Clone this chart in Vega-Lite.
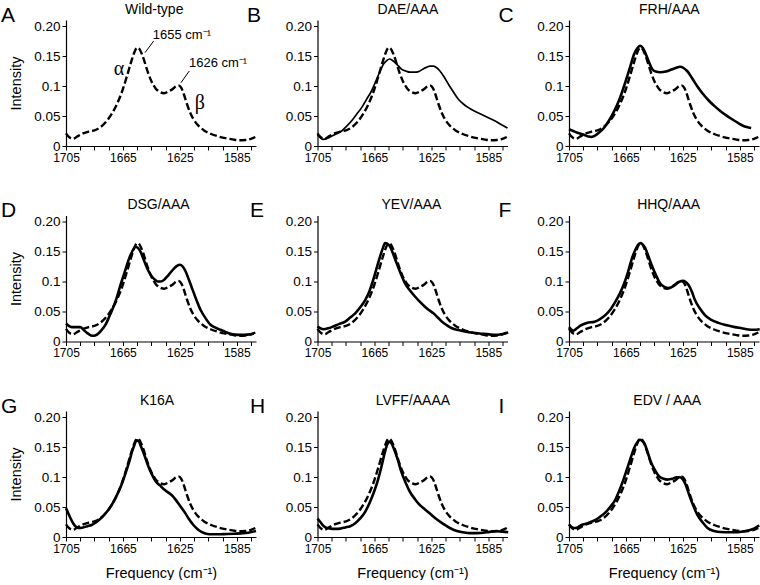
{
"$schema": "https://vega.github.io/schema/vega-lite/v6.json",
"padding": {"left": 0, "top": 2, "right": 0, "bottom": 0},
"autosize": {"type": "pad"},
"background": "white",
"columns": 3,
"spacing": {"row": 69.5, "column": 61.5},
"bounds": "flush",
"config": {
  "font": "Liberation Sans",
  "view": {"stroke": null},
  "axis": {"grid": false, "domainColor": "black", "domainWidth": 1.2, "tickColor": "black", "tickWidth": 1, "tickSize": 4, "labelColor": "black", "labelFont": "Liberation Sans", "titleFont": "Liberation Sans", "titleFontWeight": "normal", "titleColor": "black", "titleFontSize": 14.5, "labelPadding": 2},
  "axisX": {"labelFontSize": 12, "titlePadding": 12},
  "axisY": {"labelFontSize": 13.5, "titlePadding": 10},
  "line": {"color": "black", "interpolate": "monotone"},
  "text": {"color": "black"},
  "rule": {"color": "black"}
},
"datasets": {
  "wildtype": [
    {"freq":1705,"intensity":0.021},{"freq":1702.5,"intensity":0.014},{"freq":1700,"intensity":0.012},{"freq":1697,"intensity":0.016},{"freq":1693,"intensity":0.021},{"freq":1689,"intensity":0.024},{"freq":1685,"intensity":0.026},{"freq":1681,"intensity":0.031},{"freq":1677,"intensity":0.040},{"freq":1673,"intensity":0.053},{"freq":1669,"intensity":0.071},{"freq":1665,"intensity":0.095},{"freq":1662,"intensity":0.118},{"freq":1659,"intensity":0.142},{"freq":1657,"intensity":0.156},{"freq":1655,"intensity":0.164},{"freq":1653.5,"intensity":0.162},{"freq":1652,"intensity":0.155},{"freq":1650,"intensity":0.142},{"freq":1647.5,"intensity":0.123},{"freq":1645,"intensity":0.108},{"freq":1642,"intensity":0.096},{"freq":1639,"intensity":0.090},{"freq":1636,"intensity":0.088},{"freq":1633,"intensity":0.091},{"freq":1630,"intensity":0.095},{"freq":1628,"intensity":0.099},{"freq":1626,"intensity":0.101},{"freq":1624,"intensity":0.097},{"freq":1622,"intensity":0.085},{"freq":1620,"intensity":0.070},{"freq":1617.5,"intensity":0.054},{"freq":1615,"intensity":0.043},{"freq":1612,"intensity":0.034},{"freq":1608,"intensity":0.026},{"freq":1603,"intensity":0.020},{"freq":1598,"intensity":0.016},{"freq":1593,"intensity":0.013},{"freq":1588,"intensity":0.011},{"freq":1583,"intensity":0.0095},{"freq":1579,"intensity":0.010},{"freq":1575,"intensity":0.012},{"freq":1572,"intensity":0.015}
  ],
  "mutants": [
    {"panel":"B","freq":1705,"intensity":0.019},{"panel":"B","freq":1701,"intensity":0.011},{"panel":"B","freq":1697,"intensity":0.014},{"panel":"B","freq":1692,"intensity":0.020},{"panel":"B","freq":1688,"intensity":0.025},{"panel":"B","freq":1684.5,"intensity":0.033},{"panel":"B","freq":1681,"intensity":0.042},{"panel":"B","freq":1677.5,"intensity":0.053},{"panel":"B","freq":1674,"intensity":0.064},{"panel":"B","freq":1670.5,"intensity":0.078},{"panel":"B","freq":1667,"intensity":0.092},{"panel":"B","freq":1664,"intensity":0.108},{"panel":"B","freq":1661,"intensity":0.125},{"panel":"B","freq":1658.5,"intensity":0.137},{"panel":"B","freq":1656.5,"intensity":0.142},{"panel":"B","freq":1654.5,"intensity":0.145},{"panel":"B","freq":1652.5,"intensity":0.143},{"panel":"B","freq":1650.5,"intensity":0.139},{"panel":"B","freq":1648,"intensity":0.133},{"panel":"B","freq":1646,"intensity":0.128},{"panel":"B","freq":1643,"intensity":0.125},{"panel":"B","freq":1640,"intensity":0.123},{"panel":"B","freq":1637,"intensity":0.123},{"panel":"B","freq":1634,"intensity":0.124},{"panel":"B","freq":1631,"intensity":0.128},{"panel":"B","freq":1628.5,"intensity":0.131},{"panel":"B","freq":1626,"intensity":0.133},{"panel":"B","freq":1623.5,"intensity":0.133},{"panel":"B","freq":1621,"intensity":0.130},{"panel":"B","freq":1619,"intensity":0.125},{"panel":"B","freq":1616,"intensity":0.115},{"panel":"B","freq":1613,"intensity":0.103},{"panel":"B","freq":1609.5,"intensity":0.090},{"panel":"B","freq":1606,"intensity":0.078},{"panel":"B","freq":1602.5,"intensity":0.070},{"panel":"B","freq":1599,"intensity":0.064},{"panel":"B","freq":1594.5,"intensity":0.058},{"panel":"B","freq":1590,"intensity":0.053},{"panel":"B","freq":1585,"intensity":0.047},{"panel":"B","freq":1580.5,"intensity":0.042},{"panel":"B","freq":1576,"intensity":0.036},{"panel":"B","freq":1571.5,"intensity":0.030},
    {"panel":"C","freq":1705,"intensity":0.028},{"panel":"C","freq":1702,"intensity":0.025},{"panel":"C","freq":1699,"intensity":0.022},{"panel":"C","freq":1695,"intensity":0.019},{"panel":"C","freq":1691.5,"intensity":0.016},{"panel":"C","freq":1689.5,"intensity":0.015},{"panel":"C","freq":1687,"intensity":0.017},{"panel":"C","freq":1684,"intensity":0.022},{"panel":"C","freq":1680.5,"intensity":0.030},{"panel":"C","freq":1677,"intensity":0.042},{"panel":"C","freq":1673.5,"intensity":0.057},{"panel":"C","freq":1670,"intensity":0.075},{"panel":"C","freq":1667,"intensity":0.095},{"panel":"C","freq":1664,"intensity":0.117},{"panel":"C","freq":1661.5,"intensity":0.136},{"panel":"C","freq":1659.3,"intensity":0.153},{"panel":"C","freq":1657,"intensity":0.163},{"panel":"C","freq":1655,"intensity":0.167},{"panel":"C","freq":1653,"intensity":0.163},{"panel":"C","freq":1651,"intensity":0.153},{"panel":"C","freq":1649,"intensity":0.141},{"panel":"C","freq":1646.5,"intensity":0.128},{"panel":"C","freq":1644,"intensity":0.124},{"panel":"C","freq":1641,"intensity":0.123},{"panel":"C","freq":1637,"intensity":0.124},{"panel":"C","freq":1633.5,"intensity":0.127},{"panel":"C","freq":1630,"intensity":0.130},{"panel":"C","freq":1627,"intensity":0.132},{"panel":"C","freq":1624.5,"intensity":0.130},{"panel":"C","freq":1622,"intensity":0.125},{"panel":"C","freq":1618.5,"intensity":0.113},{"panel":"C","freq":1615,"intensity":0.100},{"panel":"C","freq":1611,"intensity":0.087},{"panel":"C","freq":1606.5,"intensity":0.075},{"panel":"C","freq":1602.5,"intensity":0.066},{"panel":"C","freq":1598.5,"intensity":0.058},{"panel":"C","freq":1594.5,"intensity":0.051},{"panel":"C","freq":1590,"intensity":0.044},{"panel":"C","freq":1586,"intensity":0.038},{"panel":"C","freq":1582,"intensity":0.033},{"panel":"C","freq":1579,"intensity":0.031},{"panel":"C","freq":1577,"intensity":0.030},
    {"panel":"D","freq":1705,"intensity":0.030},{"panel":"D","freq":1703,"intensity":0.026},{"panel":"D","freq":1701,"intensity":0.024},{"panel":"D","freq":1698,"intensity":0.024},{"panel":"D","freq":1695,"intensity":0.024},{"panel":"D","freq":1692.5,"intensity":0.019},{"panel":"D","freq":1690,"intensity":0.014},{"panel":"D","freq":1687.5,"intensity":0.010},{"panel":"D","freq":1685.5,"intensity":0.0095},{"panel":"D","freq":1683,"intensity":0.012},{"panel":"D","freq":1680,"intensity":0.019},{"panel":"D","freq":1677,"intensity":0.029},{"panel":"D","freq":1674.5,"intensity":0.042},{"panel":"D","freq":1672.5,"intensity":0.053},{"panel":"D","freq":1669.5,"intensity":0.072},{"panel":"D","freq":1667,"intensity":0.092},{"panel":"D","freq":1664,"intensity":0.114},{"panel":"D","freq":1661,"intensity":0.136},{"panel":"D","freq":1658.5,"intensity":0.150},{"panel":"D","freq":1656.2,"intensity":0.158},{"panel":"D","freq":1654.5,"intensity":0.156},{"panel":"D","freq":1652.5,"intensity":0.149},{"panel":"D","freq":1650.5,"intensity":0.137},{"panel":"D","freq":1648,"intensity":0.122},{"panel":"D","freq":1645.5,"intensity":0.111},{"panel":"D","freq":1643,"intensity":0.104},{"panel":"D","freq":1640.5,"intensity":0.100},{"panel":"D","freq":1638.5,"intensity":0.100},{"panel":"D","freq":1636,"intensity":0.103},{"panel":"D","freq":1634,"intensity":0.108},{"panel":"D","freq":1631.5,"intensity":0.115},{"panel":"D","freq":1629,"intensity":0.122},{"panel":"D","freq":1627,"intensity":0.126},{"panel":"D","freq":1625,"intensity":0.128},{"panel":"D","freq":1623,"intensity":0.125},{"panel":"D","freq":1621,"intensity":0.117},{"panel":"D","freq":1618.5,"intensity":0.102},{"panel":"D","freq":1616,"intensity":0.086},{"panel":"D","freq":1613.5,"intensity":0.070},{"panel":"D","freq":1610.5,"intensity":0.053},{"panel":"D","freq":1607,"intensity":0.039},{"panel":"D","freq":1603.5,"intensity":0.028},{"panel":"D","freq":1600,"intensity":0.023},{"panel":"D","freq":1596.5,"intensity":0.0195},{"panel":"D","freq":1593,"intensity":0.016},{"panel":"D","freq":1589.5,"intensity":0.013},{"panel":"D","freq":1586,"intensity":0.0115},{"panel":"D","freq":1582,"intensity":0.011},{"panel":"D","freq":1577.5,"intensity":0.0115},{"panel":"D","freq":1573,"intensity":0.013},
    {"panel":"E","freq":1705,"intensity":0.025},{"panel":"E","freq":1701,"intensity":0.0205},{"panel":"E","freq":1697.5,"intensity":0.022},{"panel":"E","freq":1694,"intensity":0.025},{"panel":"E","freq":1690,"intensity":0.029},{"panel":"E","freq":1685.5,"intensity":0.033},{"panel":"E","freq":1682,"intensity":0.040},{"panel":"E","freq":1678.5,"intensity":0.047},{"panel":"E","freq":1675,"intensity":0.057},{"panel":"E","freq":1671.5,"intensity":0.069},{"panel":"E","freq":1668.5,"intensity":0.084},{"panel":"E","freq":1665.8,"intensity":0.103},{"panel":"E","freq":1663.5,"intensity":0.122},{"panel":"E","freq":1661,"intensity":0.142},{"panel":"E","freq":1659,"intensity":0.156},{"panel":"E","freq":1657.5,"intensity":0.164},{"panel":"E","freq":1656,"intensity":0.163},{"panel":"E","freq":1654,"intensity":0.158},{"panel":"E","freq":1652,"intensity":0.147},{"panel":"E","freq":1649.5,"intensity":0.131},{"panel":"E","freq":1646.5,"intensity":0.113},{"panel":"E","freq":1643.5,"intensity":0.097},{"panel":"E","freq":1640,"intensity":0.085},{"panel":"E","freq":1636.5,"intensity":0.075},{"panel":"E","freq":1633,"intensity":0.066},{"panel":"E","freq":1629.5,"intensity":0.058},{"panel":"E","freq":1626.5,"intensity":0.052},{"panel":"E","freq":1623.5,"intensity":0.047},{"panel":"E","freq":1620.5,"intensity":0.040},{"panel":"E","freq":1617.5,"intensity":0.033},{"panel":"E","freq":1614,"intensity":0.027},{"panel":"E","freq":1610.5,"intensity":0.022},{"panel":"E","freq":1606,"intensity":0.019},{"panel":"E","freq":1601.5,"intensity":0.0167},{"panel":"E","freq":1595.5,"intensity":0.0145},{"panel":"E","freq":1589.5,"intensity":0.013},{"panel":"E","freq":1584.5,"intensity":0.0118},{"panel":"E","freq":1580,"intensity":0.011},{"panel":"E","freq":1575,"intensity":0.0125},{"panel":"E","freq":1571,"intensity":0.015},
    {"panel":"F","freq":1705,"intensity":0.024},{"panel":"F","freq":1702,"intensity":0.018},{"panel":"F","freq":1699.5,"intensity":0.022},{"panel":"F","freq":1697,"intensity":0.0265},{"panel":"F","freq":1692.5,"intensity":0.031},{"panel":"F","freq":1687,"intensity":0.033},{"panel":"F","freq":1683.5,"intensity":0.037},{"panel":"F","freq":1679.5,"intensity":0.044},{"panel":"F","freq":1676,"intensity":0.053},{"panel":"F","freq":1672.5,"intensity":0.066},{"panel":"F","freq":1669.5,"intensity":0.079},{"panel":"F","freq":1666.5,"intensity":0.095},{"panel":"F","freq":1663.5,"intensity":0.116},{"panel":"F","freq":1661,"intensity":0.137},{"panel":"F","freq":1658.5,"intensity":0.152},{"panel":"F","freq":1656.5,"intensity":0.161},{"panel":"F","freq":1654.5,"intensity":0.164},{"panel":"F","freq":1653,"intensity":0.161},{"panel":"F","freq":1651.5,"intensity":0.156},{"panel":"F","freq":1649.5,"intensity":0.144},{"panel":"F","freq":1647,"intensity":0.128},{"panel":"F","freq":1644,"intensity":0.111},{"panel":"F","freq":1641,"intensity":0.097},{"panel":"F","freq":1638,"intensity":0.091},{"panel":"F","freq":1635,"intensity":0.089},{"panel":"F","freq":1632,"intensity":0.092},{"panel":"F","freq":1629.5,"intensity":0.097},{"panel":"F","freq":1627,"intensity":0.100},{"panel":"F","freq":1625,"intensity":0.101},{"panel":"F","freq":1623,"intensity":0.099},{"panel":"F","freq":1621,"intensity":0.094},{"panel":"F","freq":1618.5,"intensity":0.082},{"panel":"F","freq":1616.5,"intensity":0.069},{"panel":"F","freq":1613,"intensity":0.055},{"panel":"F","freq":1609.5,"intensity":0.044},{"panel":"F","freq":1605,"intensity":0.036},{"panel":"F","freq":1600,"intensity":0.031},{"panel":"F","freq":1594,"intensity":0.027},{"panel":"F","freq":1588.5,"intensity":0.024},{"panel":"F","freq":1583.5,"intensity":0.022},{"panel":"F","freq":1579,"intensity":0.020},{"panel":"F","freq":1575,"intensity":0.0195},{"panel":"F","freq":1571,"intensity":0.0205},
    {"panel":"G","freq":1705,"intensity":0.048},{"panel":"G","freq":1703.5,"intensity":0.040},{"panel":"G","freq":1702,"intensity":0.032},{"panel":"G","freq":1700,"intensity":0.023},{"panel":"G","freq":1698,"intensity":0.017},{"panel":"G","freq":1696,"intensity":0.015},{"panel":"G","freq":1693,"intensity":0.016},{"panel":"G","freq":1690,"intensity":0.018},{"panel":"G","freq":1687,"intensity":0.020},{"panel":"G","freq":1683.5,"intensity":0.025},{"panel":"G","freq":1680.5,"intensity":0.031},{"panel":"G","freq":1677,"intensity":0.040},{"panel":"G","freq":1673.5,"intensity":0.051},{"panel":"G","freq":1670,"intensity":0.066},{"panel":"G","freq":1666.5,"intensity":0.084},{"panel":"G","freq":1663.5,"intensity":0.104},{"panel":"G","freq":1660.5,"intensity":0.126},{"panel":"G","freq":1658.5,"intensity":0.143},{"panel":"G","freq":1657,"intensity":0.153},{"panel":"G","freq":1655.5,"intensity":0.161},{"panel":"G","freq":1654,"intensity":0.160},{"panel":"G","freq":1652.3,"intensity":0.151},{"panel":"G","freq":1650,"intensity":0.137},{"panel":"G","freq":1647.5,"intensity":0.120},{"panel":"G","freq":1645,"intensity":0.106},{"panel":"G","freq":1642,"intensity":0.093},{"panel":"G","freq":1639,"intensity":0.086},{"panel":"G","freq":1636,"intensity":0.079},{"panel":"G","freq":1633,"intensity":0.074},{"panel":"G","freq":1630,"intensity":0.068},{"panel":"G","freq":1627,"intensity":0.059},{"panel":"G","freq":1624,"intensity":0.049},{"panel":"G","freq":1621,"intensity":0.039},{"panel":"G","freq":1618.5,"intensity":0.0295},{"panel":"G","freq":1615.5,"intensity":0.020},{"panel":"G","freq":1612.5,"intensity":0.013},{"panel":"G","freq":1609.5,"intensity":0.008},{"panel":"G","freq":1606.5,"intensity":0.0055},{"panel":"G","freq":1602,"intensity":0.0045},{"panel":"G","freq":1598,"intensity":0.0045},{"panel":"G","freq":1592,"intensity":0.005},{"panel":"G","freq":1586.5,"intensity":0.0055},{"panel":"G","freq":1582,"intensity":0.006},{"panel":"G","freq":1577,"intensity":0.007},{"panel":"G","freq":1571.5,"intensity":0.010},
    {"panel":"H","freq":1705,"intensity":0.0305},{"panel":"H","freq":1703,"intensity":0.025},{"panel":"H","freq":1701,"intensity":0.019},{"panel":"H","freq":1698.5,"intensity":0.015},{"panel":"H","freq":1696,"intensity":0.014},{"panel":"H","freq":1692.5,"intensity":0.0135},{"panel":"H","freq":1689,"intensity":0.014},{"panel":"H","freq":1685.5,"intensity":0.016},{"panel":"H","freq":1682,"intensity":0.018},{"panel":"H","freq":1678.5,"intensity":0.023},{"panel":"H","freq":1675,"intensity":0.031},{"panel":"H","freq":1671.5,"intensity":0.042},{"panel":"H","freq":1668.2,"intensity":0.058},{"panel":"H","freq":1665,"intensity":0.077},{"panel":"H","freq":1662.3,"intensity":0.097},{"panel":"H","freq":1660,"intensity":0.118},{"panel":"H","freq":1657.6,"intensity":0.142},{"panel":"H","freq":1656,"intensity":0.154},{"panel":"H","freq":1654.6,"intensity":0.159},{"panel":"H","freq":1653,"intensity":0.156},{"panel":"H","freq":1651.3,"intensity":0.147},{"panel":"H","freq":1648.5,"intensity":0.128},{"panel":"H","freq":1646,"intensity":0.108},{"panel":"H","freq":1643,"intensity":0.090},{"panel":"H","freq":1640,"intensity":0.075},{"panel":"H","freq":1636.5,"intensity":0.063},{"panel":"H","freq":1633,"intensity":0.053},{"panel":"H","freq":1629.5,"intensity":0.046},{"panel":"H","freq":1626,"intensity":0.039},{"panel":"H","freq":1621.5,"intensity":0.030},{"panel":"H","freq":1616.7,"intensity":0.022},{"panel":"H","freq":1612,"intensity":0.015},{"panel":"H","freq":1607,"intensity":0.010},{"panel":"H","freq":1602,"intensity":0.0075},{"panel":"H","freq":1598,"intensity":0.0065},{"panel":"H","freq":1593,"intensity":0.0065},{"panel":"H","freq":1588.5,"intensity":0.007},{"panel":"H","freq":1584,"intensity":0.0085},{"panel":"H","freq":1579,"intensity":0.0095},{"panel":"H","freq":1575,"intensity":0.009},{"panel":"H","freq":1571,"intensity":0.008},
    {"panel":"I","freq":1705,"intensity":0.0205},{"panel":"I","freq":1701.5,"intensity":0.015},{"panel":"I","freq":1699,"intensity":0.016},{"panel":"I","freq":1696.8,"intensity":0.0195},{"panel":"I","freq":1693,"intensity":0.022},{"panel":"I","freq":1689.8,"intensity":0.025},{"panel":"I","freq":1686,"intensity":0.029},{"panel":"I","freq":1682.7,"intensity":0.0345},{"panel":"I","freq":1679,"intensity":0.042},{"panel":"I","freq":1675.7,"intensity":0.051},{"panel":"I","freq":1672.5,"intensity":0.062},{"panel":"I","freq":1669.9,"intensity":0.076},{"panel":"I","freq":1667,"intensity":0.094},{"panel":"I","freq":1664,"intensity":0.115},{"panel":"I","freq":1661.5,"intensity":0.133},{"panel":"I","freq":1659.3,"intensity":0.148},{"panel":"I","freq":1657,"intensity":0.158},{"panel":"I","freq":1655.3,"intensity":0.162},{"panel":"I","freq":1653.5,"intensity":0.160},{"panel":"I","freq":1652,"intensity":0.156},{"panel":"I","freq":1650,"intensity":0.143},{"panel":"I","freq":1647.6,"intensity":0.126},{"panel":"I","freq":1645,"intensity":0.113},{"panel":"I","freq":1641.7,"intensity":0.101},{"panel":"I","freq":1638.5,"intensity":0.097},{"panel":"I","freq":1635.9,"intensity":0.0957},{"panel":"I","freq":1632.5,"intensity":0.097},{"panel":"I","freq":1629.5,"intensity":0.0995},{"panel":"I","freq":1627,"intensity":0.0995},{"panel":"I","freq":1625,"intensity":0.096},{"panel":"I","freq":1623,"intensity":0.087},{"panel":"I","freq":1620.7,"intensity":0.071},{"panel":"I","freq":1618,"intensity":0.054},{"panel":"I","freq":1614.8,"intensity":0.037},{"panel":"I","freq":1611,"intensity":0.024},{"panel":"I","freq":1607.7,"intensity":0.015},{"panel":"I","freq":1603,"intensity":0.010},{"panel":"I","freq":1598.4,"intensity":0.0083},{"panel":"I","freq":1592,"intensity":0.008},{"panel":"I","freq":1586.7,"intensity":0.008},{"panel":"I","freq":1582,"intensity":0.0095},{"panel":"I","freq":1577.3,"intensity":0.012},{"panel":"I","freq":1574,"intensity":0.015},{"panel":"I","freq":1571.4,"intensity":0.0195}
  ]
},
"concat": [
  {"width": 190, "height": 126,
   "layer": [
     {"data": {"name": "wildtype"}, "mark": {"type": "line", "strokeWidth": 2.4, "strokeDash": [7, 3]},
      "encoding": {
       "x": {"field": "freq", "type": "quantitative", "scale": {"domain": [1571.5, 1705], "reverse": true, "nice": false, "zero": false}, "axis": {"title": null, "values": [1705,1695,1685,1675,1665,1655,1645,1635,1625,1615,1605,1595,1585,1575], "format": "d", "labelExpr": "(1705 - datum.value) % 40 == 0 ? datum.label : ''", "labelOverlap": false, "labelFlush": false}},
       "y": {"field": "intensity", "type": "quantitative", "scale": {"domain": [0, 0.21], "nice": false, "zero": true}, "axis": {"title": "Intensity", "values": [0, 0.05, 0.1, 0.15, 0.2], "labelOverlap": false, "labelExpr": "datum.value == 0 ? '0' : (abs(datum.value - 0.1) < 0.000001 ? '0.1' : format(datum.value, '.2f'))"}}}},
     {"data": {"values": [{"t": "A"}]}, "mark": {"type": "text", "fontSize": 21, "align": "left", "baseline": "alphabetic"}, "encoding": {"text": {"field": "t"},
       "x": {"datum": 1750.7, "type": "quantitative", "scale": {"domain": [1571.5, 1705], "reverse": true, "nice": false, "zero": false}, "axis": {"title": null, "values": [1705,1695,1685,1675,1665,1655,1645,1635,1625,1615,1605,1595,1585,1575], "format": "d", "labelExpr": "(1705 - datum.value) % 40 == 0 ? datum.label : ''", "labelOverlap": false, "labelFlush": false}},
       "y": {"datum": 0.2067, "type": "quantitative", "scale": {"domain": [0, 0.21], "nice": false, "zero": true}, "axis": {"title": "Intensity", "values": [0, 0.05, 0.1, 0.15, 0.2], "labelOverlap": false, "labelExpr": "datum.value == 0 ? '0' : (abs(datum.value - 0.1) < 0.000001 ? '0.1' : format(datum.value, '.2f'))"}}}},
     {"data": {"values": [{"t": "Wild-type"}]}, "mark": {"type": "text", "fontSize": 14, "align": "center", "baseline": "alphabetic"}, "encoding": {"text": {"field": "t"},
       "x": {"datum": 1643, "type": "quantitative", "scale": {"domain": [1571.5, 1705], "reverse": true, "nice": false, "zero": false}, "axis": {"title": null, "values": [1705,1695,1685,1675,1665,1655,1645,1635,1625,1615,1605,1595,1585,1575], "format": "d", "labelExpr": "(1705 - datum.value) % 40 == 0 ? datum.label : ''", "labelOverlap": false, "labelFlush": false}},
       "y": {"datum": 0.2205, "type": "quantitative", "scale": {"domain": [0, 0.21], "nice": false, "zero": true}, "axis": {"title": "Intensity", "values": [0, 0.05, 0.1, 0.15, 0.2], "labelOverlap": false, "labelExpr": "datum.value == 0 ? '0' : (abs(datum.value - 0.1) < 0.000001 ? '0.1' : format(datum.value, '.2f'))"}}}},
     {"data": {"values": [{"t": "1655 cm⁻¹"}]}, "mark": {"type": "text", "fontSize": 13, "align": "left", "baseline": "middle"}, "encoding": {"text": {"field": "t"},
       "x": {"datum": 1644, "type": "quantitative", "scale": {"domain": [1571.5, 1705], "reverse": true, "nice": false, "zero": false}, "axis": {"title": null, "values": [1705,1695,1685,1675,1665,1655,1645,1635,1625,1615,1605,1595,1585,1575], "format": "d", "labelExpr": "(1705 - datum.value) % 40 == 0 ? datum.label : ''", "labelOverlap": false, "labelFlush": false}},
       "y": {"datum": 0.185, "type": "quantitative", "scale": {"domain": [0, 0.21], "nice": false, "zero": true}, "axis": {"title": "Intensity", "values": [0, 0.05, 0.1, 0.15, 0.2], "labelOverlap": false, "labelExpr": "datum.value == 0 ? '0' : (abs(datum.value - 0.1) < 0.000001 ? '0.1' : format(datum.value, '.2f'))"}}}},
     {"data": {"values": [{"t": "1626 cm⁻¹"}]}, "mark": {"type": "text", "fontSize": 13, "align": "left", "baseline": "middle"}, "encoding": {"text": {"field": "t"},
       "x": {"datum": 1618.6, "type": "quantitative", "scale": {"domain": [1571.5, 1705], "reverse": true, "nice": false, "zero": false}, "axis": {"title": null, "values": [1705,1695,1685,1675,1665,1655,1645,1635,1625,1615,1605,1595,1585,1575], "format": "d", "labelExpr": "(1705 - datum.value) % 40 == 0 ? datum.label : ''", "labelOverlap": false, "labelFlush": false}},
       "y": {"datum": 0.138, "type": "quantitative", "scale": {"domain": [0, 0.21], "nice": false, "zero": true}, "axis": {"title": "Intensity", "values": [0, 0.05, 0.1, 0.15, 0.2], "labelOverlap": false, "labelExpr": "datum.value == 0 ? '0' : (abs(datum.value - 0.1) < 0.000001 ? '0.1' : format(datum.value, '.2f'))"}}}},
     {"data": {"values": [{"t": "α"}]}, "mark": {"type": "text", "fontSize": 20, "font": "Liberation Serif", "align": "center", "baseline": "middle"}, "encoding": {"text": {"field": "t"},
       "x": {"datum": 1667.8, "type": "quantitative", "scale": {"domain": [1571.5, 1705], "reverse": true, "nice": false, "zero": false}, "axis": {"title": null, "values": [1705,1695,1685,1675,1665,1655,1645,1635,1625,1615,1605,1595,1585,1575], "format": "d", "labelExpr": "(1705 - datum.value) % 40 == 0 ? datum.label : ''", "labelOverlap": false, "labelFlush": false}},
       "y": {"datum": 0.128, "type": "quantitative", "scale": {"domain": [0, 0.21], "nice": false, "zero": true}, "axis": {"title": "Intensity", "values": [0, 0.05, 0.1, 0.15, 0.2], "labelOverlap": false, "labelExpr": "datum.value == 0 ? '0' : (abs(datum.value - 0.1) < 0.000001 ? '0.1' : format(datum.value, '.2f'))"}}}},
     {"data": {"values": [{"t": "β"}]}, "mark": {"type": "text", "fontSize": 20, "font": "Liberation Serif", "align": "center", "baseline": "middle"}, "encoding": {"text": {"field": "t"},
       "x": {"datum": 1611, "type": "quantitative", "scale": {"domain": [1571.5, 1705], "reverse": true, "nice": false, "zero": false}, "axis": {"title": null, "values": [1705,1695,1685,1675,1665,1655,1645,1635,1625,1615,1605,1595,1585,1575], "format": "d", "labelExpr": "(1705 - datum.value) % 40 == 0 ? datum.label : ''", "labelOverlap": false, "labelFlush": false}},
       "y": {"datum": 0.072, "type": "quantitative", "scale": {"domain": [0, 0.21], "nice": false, "zero": true}, "axis": {"title": "Intensity", "values": [0, 0.05, 0.1, 0.15, 0.2], "labelOverlap": false, "labelExpr": "datum.value == 0 ? '0' : (abs(datum.value - 0.1) < 0.000001 ? '0.1' : format(datum.value, '.2f'))"}}}},
     {"data": {"values": [{"note": "1655 leader"}]}, "mark": {"type": "rule", "strokeWidth": 1}, "encoding": {
       "x": {"datum": 1649.5, "type": "quantitative", "scale": {"domain": [1571.5, 1705], "reverse": true, "nice": false, "zero": false}, "axis": {"title": null, "values": [1705,1695,1685,1675,1665,1655,1645,1635,1625,1615,1605,1595,1585,1575], "format": "d", "labelExpr": "(1705 - datum.value) % 40 == 0 ? datum.label : ''", "labelOverlap": false, "labelFlush": false}},
       "x2": {"datum": 1643.4},
       "y": {"datum": 0.1555, "type": "quantitative", "scale": {"domain": [0, 0.21], "nice": false, "zero": true}, "axis": {"title": "Intensity", "values": [0, 0.05, 0.1, 0.15, 0.2], "labelOverlap": false, "labelExpr": "datum.value == 0 ? '0' : (abs(datum.value - 0.1) < 0.000001 ? '0.1' : format(datum.value, '.2f'))"}},
       "y2": {"datum": 0.175}}},
     {"data": {"values": [{"note": "1626 leader"}]}, "mark": {"type": "rule", "strokeWidth": 1}, "encoding": {
       "x": {"datum": 1624.2, "type": "quantitative", "scale": {"domain": [1571.5, 1705], "reverse": true, "nice": false, "zero": false}, "axis": {"title": null, "values": [1705,1695,1685,1675,1665,1655,1645,1635,1625,1615,1605,1595,1585,1575], "format": "d", "labelExpr": "(1705 - datum.value) % 40 == 0 ? datum.label : ''", "labelOverlap": false, "labelFlush": false}},
       "x2": {"datum": 1618.4},
       "y": {"datum": 0.1055, "type": "quantitative", "scale": {"domain": [0, 0.21], "nice": false, "zero": true}, "axis": {"title": "Intensity", "values": [0, 0.05, 0.1, 0.15, 0.2], "labelOverlap": false, "labelExpr": "datum.value == 0 ? '0' : (abs(datum.value - 0.1) < 0.000001 ? '0.1' : format(datum.value, '.2f'))"}},
       "y2": {"datum": 0.125}}}
   ]},
  {"width": 190, "height": 126,
   "layer": [
     {"data": {"name": "mutants"}, "transform": [{"filter": "datum.panel == 'B'"}], "mark": {"type": "line", "strokeWidth": 1.7},
      "encoding": {
       "x": {"field": "freq", "type": "quantitative", "scale": {"domain": [1571.5, 1705], "reverse": true, "nice": false, "zero": false}, "axis": {"title": null, "values": [1705,1695,1685,1675,1665,1655,1645,1635,1625,1615,1605,1595,1585,1575], "format": "d", "labelExpr": "(1705 - datum.value) % 40 == 0 ? datum.label : ''", "labelOverlap": false, "labelFlush": false}},
       "y": {"field": "intensity", "type": "quantitative", "scale": {"domain": [0, 0.21], "nice": false, "zero": true}, "axis": {"title": null, "values": [0, 0.05, 0.1, 0.15, 0.2], "labelOverlap": false, "labelExpr": "datum.value == 0 ? '0' : (abs(datum.value - 0.1) < 0.000001 ? '0.1' : format(datum.value, '.2f'))"}}}},
     {"data": {"name": "wildtype"}, "mark": {"type": "line", "strokeWidth": 2.4, "strokeDash": [7, 3]},
      "encoding": {
       "x": {"field": "freq", "type": "quantitative", "scale": {"domain": [1571.5, 1705], "reverse": true, "nice": false, "zero": false}, "axis": {"title": null, "values": [1705,1695,1685,1675,1665,1655,1645,1635,1625,1615,1605,1595,1585,1575], "format": "d", "labelExpr": "(1705 - datum.value) % 40 == 0 ? datum.label : ''", "labelOverlap": false, "labelFlush": false}},
       "y": {"field": "intensity", "type": "quantitative", "scale": {"domain": [0, 0.21], "nice": false, "zero": true}, "axis": {"title": null, "values": [0, 0.05, 0.1, 0.15, 0.2], "labelOverlap": false, "labelExpr": "datum.value == 0 ? '0' : (abs(datum.value - 0.1) < 0.000001 ? '0.1' : format(datum.value, '.2f'))"}}}},
     {"data": {"values": [{"t": "B"}]}, "mark": {"type": "text", "fontSize": 21, "align": "left", "baseline": "alphabetic"}, "encoding": {"text": {"field": "t"},
       "x": {"datum": 1754.5, "type": "quantitative", "scale": {"domain": [1571.5, 1705], "reverse": true, "nice": false, "zero": false}, "axis": {"title": null, "values": [1705,1695,1685,1675,1665,1655,1645,1635,1625,1615,1605,1595,1585,1575], "format": "d", "labelExpr": "(1705 - datum.value) % 40 == 0 ? datum.label : ''", "labelOverlap": false, "labelFlush": false}},
       "y": {"datum": 0.2067, "type": "quantitative", "scale": {"domain": [0, 0.21], "nice": false, "zero": true}, "axis": {"title": null, "values": [0, 0.05, 0.1, 0.15, 0.2], "labelOverlap": false, "labelExpr": "datum.value == 0 ? '0' : (abs(datum.value - 0.1) < 0.000001 ? '0.1' : format(datum.value, '.2f'))"}}}},
     {"data": {"values": [{"t": "DAE/AAA"}]}, "mark": {"type": "text", "fontSize": 14, "align": "center", "baseline": "alphabetic"}, "encoding": {"text": {"field": "t"},
       "x": {"datum": 1641.5, "type": "quantitative", "scale": {"domain": [1571.5, 1705], "reverse": true, "nice": false, "zero": false}, "axis": {"title": null, "values": [1705,1695,1685,1675,1665,1655,1645,1635,1625,1615,1605,1595,1585,1575], "format": "d", "labelExpr": "(1705 - datum.value) % 40 == 0 ? datum.label : ''", "labelOverlap": false, "labelFlush": false}},
       "y": {"datum": 0.2205, "type": "quantitative", "scale": {"domain": [0, 0.21], "nice": false, "zero": true}, "axis": {"title": null, "values": [0, 0.05, 0.1, 0.15, 0.2], "labelOverlap": false, "labelExpr": "datum.value == 0 ? '0' : (abs(datum.value - 0.1) < 0.000001 ? '0.1' : format(datum.value, '.2f'))"}}}}
   ]},
  {"width": 190, "height": 126,
   "layer": [
     {"data": {"name": "mutants"}, "transform": [{"filter": "datum.panel == 'C'"}], "mark": {"type": "line", "strokeWidth": 2.6},
      "encoding": {
       "x": {"field": "freq", "type": "quantitative", "scale": {"domain": [1571.5, 1705], "reverse": true, "nice": false, "zero": false}, "axis": {"title": null, "values": [1705,1695,1685,1675,1665,1655,1645,1635,1625,1615,1605,1595,1585,1575], "format": "d", "labelExpr": "(1705 - datum.value) % 40 == 0 ? datum.label : ''", "labelOverlap": false, "labelFlush": false}},
       "y": {"field": "intensity", "type": "quantitative", "scale": {"domain": [0, 0.21], "nice": false, "zero": true}, "axis": {"title": null, "values": [0, 0.05, 0.1, 0.15, 0.2], "labelOverlap": false, "labelExpr": "datum.value == 0 ? '0' : (abs(datum.value - 0.1) < 0.000001 ? '0.1' : format(datum.value, '.2f'))"}}}},
     {"data": {"name": "wildtype"}, "mark": {"type": "line", "strokeWidth": 2.4, "strokeDash": [7, 3]},
      "encoding": {
       "x": {"field": "freq", "type": "quantitative", "scale": {"domain": [1571.5, 1705], "reverse": true, "nice": false, "zero": false}, "axis": {"title": null, "values": [1705,1695,1685,1675,1665,1655,1645,1635,1625,1615,1605,1595,1585,1575], "format": "d", "labelExpr": "(1705 - datum.value) % 40 == 0 ? datum.label : ''", "labelOverlap": false, "labelFlush": false}},
       "y": {"field": "intensity", "type": "quantitative", "scale": {"domain": [0, 0.21], "nice": false, "zero": true}, "axis": {"title": null, "values": [0, 0.05, 0.1, 0.15, 0.2], "labelOverlap": false, "labelExpr": "datum.value == 0 ? '0' : (abs(datum.value - 0.1) < 0.000001 ? '0.1' : format(datum.value, '.2f'))"}}}},
     {"data": {"values": [{"t": "C"}]}, "mark": {"type": "text", "fontSize": 21, "align": "left", "baseline": "alphabetic"}, "encoding": {"text": {"field": "t"},
       "x": {"datum": 1754.5, "type": "quantitative", "scale": {"domain": [1571.5, 1705], "reverse": true, "nice": false, "zero": false}, "axis": {"title": null, "values": [1705,1695,1685,1675,1665,1655,1645,1635,1625,1615,1605,1595,1585,1575], "format": "d", "labelExpr": "(1705 - datum.value) % 40 == 0 ? datum.label : ''", "labelOverlap": false, "labelFlush": false}},
       "y": {"datum": 0.2067, "type": "quantitative", "scale": {"domain": [0, 0.21], "nice": false, "zero": true}, "axis": {"title": null, "values": [0, 0.05, 0.1, 0.15, 0.2], "labelOverlap": false, "labelExpr": "datum.value == 0 ? '0' : (abs(datum.value - 0.1) < 0.000001 ? '0.1' : format(datum.value, '.2f'))"}}}},
     {"data": {"values": [{"t": "FRH/AAA"}]}, "mark": {"type": "text", "fontSize": 14, "align": "center", "baseline": "alphabetic"}, "encoding": {"text": {"field": "t"},
       "x": {"datum": 1634.5, "type": "quantitative", "scale": {"domain": [1571.5, 1705], "reverse": true, "nice": false, "zero": false}, "axis": {"title": null, "values": [1705,1695,1685,1675,1665,1655,1645,1635,1625,1615,1605,1595,1585,1575], "format": "d", "labelExpr": "(1705 - datum.value) % 40 == 0 ? datum.label : ''", "labelOverlap": false, "labelFlush": false}},
       "y": {"datum": 0.2205, "type": "quantitative", "scale": {"domain": [0, 0.21], "nice": false, "zero": true}, "axis": {"title": null, "values": [0, 0.05, 0.1, 0.15, 0.2], "labelOverlap": false, "labelExpr": "datum.value == 0 ? '0' : (abs(datum.value - 0.1) < 0.000001 ? '0.1' : format(datum.value, '.2f'))"}}}}
   ]},
  {"width": 190, "height": 126,
   "layer": [
     {"data": {"name": "mutants"}, "transform": [{"filter": "datum.panel == 'D'"}], "mark": {"type": "line", "strokeWidth": 2.6},
      "encoding": {
       "x": {"field": "freq", "type": "quantitative", "scale": {"domain": [1571.5, 1705], "reverse": true, "nice": false, "zero": false}, "axis": {"title": null, "values": [1705,1695,1685,1675,1665,1655,1645,1635,1625,1615,1605,1595,1585,1575], "format": "d", "labelExpr": "(1705 - datum.value) % 40 == 0 ? datum.label : ''", "labelOverlap": false, "labelFlush": false}},
       "y": {"field": "intensity", "type": "quantitative", "scale": {"domain": [0, 0.21], "nice": false, "zero": true}, "axis": {"title": "Intensity", "values": [0, 0.05, 0.1, 0.15, 0.2], "labelOverlap": false, "labelExpr": "datum.value == 0 ? '0' : (abs(datum.value - 0.1) < 0.000001 ? '0.1' : format(datum.value, '.2f'))"}}}},
     {"data": {"name": "wildtype"}, "mark": {"type": "line", "strokeWidth": 2.4, "strokeDash": [7, 3]},
      "encoding": {
       "x": {"field": "freq", "type": "quantitative", "scale": {"domain": [1571.5, 1705], "reverse": true, "nice": false, "zero": false}, "axis": {"title": null, "values": [1705,1695,1685,1675,1665,1655,1645,1635,1625,1615,1605,1595,1585,1575], "format": "d", "labelExpr": "(1705 - datum.value) % 40 == 0 ? datum.label : ''", "labelOverlap": false, "labelFlush": false}},
       "y": {"field": "intensity", "type": "quantitative", "scale": {"domain": [0, 0.21], "nice": false, "zero": true}, "axis": {"title": "Intensity", "values": [0, 0.05, 0.1, 0.15, 0.2], "labelOverlap": false, "labelExpr": "datum.value == 0 ? '0' : (abs(datum.value - 0.1) < 0.000001 ? '0.1' : format(datum.value, '.2f'))"}}}},
     {"data": {"values": [{"t": "D"}]}, "mark": {"type": "text", "fontSize": 21, "align": "left", "baseline": "alphabetic"}, "encoding": {"text": {"field": "t"},
       "x": {"datum": 1750.7, "type": "quantitative", "scale": {"domain": [1571.5, 1705], "reverse": true, "nice": false, "zero": false}, "axis": {"title": null, "values": [1705,1695,1685,1675,1665,1655,1645,1635,1625,1615,1605,1595,1585,1575], "format": "d", "labelExpr": "(1705 - datum.value) % 40 == 0 ? datum.label : ''", "labelOverlap": false, "labelFlush": false}},
       "y": {"datum": 0.2067, "type": "quantitative", "scale": {"domain": [0, 0.21], "nice": false, "zero": true}, "axis": {"title": "Intensity", "values": [0, 0.05, 0.1, 0.15, 0.2], "labelOverlap": false, "labelExpr": "datum.value == 0 ? '0' : (abs(datum.value - 0.1) < 0.000001 ? '0.1' : format(datum.value, '.2f'))"}}}},
     {"data": {"values": [{"t": "DSG/AAA"}]}, "mark": {"type": "text", "fontSize": 14, "align": "center", "baseline": "alphabetic"}, "encoding": {"text": {"field": "t"},
       "x": {"datum": 1640, "type": "quantitative", "scale": {"domain": [1571.5, 1705], "reverse": true, "nice": false, "zero": false}, "axis": {"title": null, "values": [1705,1695,1685,1675,1665,1655,1645,1635,1625,1615,1605,1595,1585,1575], "format": "d", "labelExpr": "(1705 - datum.value) % 40 == 0 ? datum.label : ''", "labelOverlap": false, "labelFlush": false}},
       "y": {"datum": 0.2205, "type": "quantitative", "scale": {"domain": [0, 0.21], "nice": false, "zero": true}, "axis": {"title": "Intensity", "values": [0, 0.05, 0.1, 0.15, 0.2], "labelOverlap": false, "labelExpr": "datum.value == 0 ? '0' : (abs(datum.value - 0.1) < 0.000001 ? '0.1' : format(datum.value, '.2f'))"}}}}
   ]},
  {"width": 190, "height": 126,
   "layer": [
     {"data": {"name": "mutants"}, "transform": [{"filter": "datum.panel == 'E'"}], "mark": {"type": "line", "strokeWidth": 2.6},
      "encoding": {
       "x": {"field": "freq", "type": "quantitative", "scale": {"domain": [1571.5, 1705], "reverse": true, "nice": false, "zero": false}, "axis": {"title": null, "values": [1705,1695,1685,1675,1665,1655,1645,1635,1625,1615,1605,1595,1585,1575], "format": "d", "labelExpr": "(1705 - datum.value) % 40 == 0 ? datum.label : ''", "labelOverlap": false, "labelFlush": false}},
       "y": {"field": "intensity", "type": "quantitative", "scale": {"domain": [0, 0.21], "nice": false, "zero": true}, "axis": {"title": null, "values": [0, 0.05, 0.1, 0.15, 0.2], "labelOverlap": false, "labelExpr": "datum.value == 0 ? '0' : (abs(datum.value - 0.1) < 0.000001 ? '0.1' : format(datum.value, '.2f'))"}}}},
     {"data": {"name": "wildtype"}, "mark": {"type": "line", "strokeWidth": 2.4, "strokeDash": [7, 3]},
      "encoding": {
       "x": {"field": "freq", "type": "quantitative", "scale": {"domain": [1571.5, 1705], "reverse": true, "nice": false, "zero": false}, "axis": {"title": null, "values": [1705,1695,1685,1675,1665,1655,1645,1635,1625,1615,1605,1595,1585,1575], "format": "d", "labelExpr": "(1705 - datum.value) % 40 == 0 ? datum.label : ''", "labelOverlap": false, "labelFlush": false}},
       "y": {"field": "intensity", "type": "quantitative", "scale": {"domain": [0, 0.21], "nice": false, "zero": true}, "axis": {"title": null, "values": [0, 0.05, 0.1, 0.15, 0.2], "labelOverlap": false, "labelExpr": "datum.value == 0 ? '0' : (abs(datum.value - 0.1) < 0.000001 ? '0.1' : format(datum.value, '.2f'))"}}}},
     {"data": {"values": [{"t": "E"}]}, "mark": {"type": "text", "fontSize": 21, "align": "left", "baseline": "alphabetic"}, "encoding": {"text": {"field": "t"},
       "x": {"datum": 1752.5, "type": "quantitative", "scale": {"domain": [1571.5, 1705], "reverse": true, "nice": false, "zero": false}, "axis": {"title": null, "values": [1705,1695,1685,1675,1665,1655,1645,1635,1625,1615,1605,1595,1585,1575], "format": "d", "labelExpr": "(1705 - datum.value) % 40 == 0 ? datum.label : ''", "labelOverlap": false, "labelFlush": false}},
       "y": {"datum": 0.2067, "type": "quantitative", "scale": {"domain": [0, 0.21], "nice": false, "zero": true}, "axis": {"title": null, "values": [0, 0.05, 0.1, 0.15, 0.2], "labelOverlap": false, "labelExpr": "datum.value == 0 ? '0' : (abs(datum.value - 0.1) < 0.000001 ? '0.1' : format(datum.value, '.2f'))"}}}},
     {"data": {"values": [{"t": "YEV/AAA"}]}, "mark": {"type": "text", "fontSize": 14, "align": "center", "baseline": "alphabetic"}, "encoding": {"text": {"field": "t"},
       "x": {"datum": 1639, "type": "quantitative", "scale": {"domain": [1571.5, 1705], "reverse": true, "nice": false, "zero": false}, "axis": {"title": null, "values": [1705,1695,1685,1675,1665,1655,1645,1635,1625,1615,1605,1595,1585,1575], "format": "d", "labelExpr": "(1705 - datum.value) % 40 == 0 ? datum.label : ''", "labelOverlap": false, "labelFlush": false}},
       "y": {"datum": 0.2205, "type": "quantitative", "scale": {"domain": [0, 0.21], "nice": false, "zero": true}, "axis": {"title": null, "values": [0, 0.05, 0.1, 0.15, 0.2], "labelOverlap": false, "labelExpr": "datum.value == 0 ? '0' : (abs(datum.value - 0.1) < 0.000001 ? '0.1' : format(datum.value, '.2f'))"}}}}
   ]},
  {"width": 190, "height": 126,
   "layer": [
     {"data": {"name": "mutants"}, "transform": [{"filter": "datum.panel == 'F'"}], "mark": {"type": "line", "strokeWidth": 2.6},
      "encoding": {
       "x": {"field": "freq", "type": "quantitative", "scale": {"domain": [1571.5, 1705], "reverse": true, "nice": false, "zero": false}, "axis": {"title": null, "values": [1705,1695,1685,1675,1665,1655,1645,1635,1625,1615,1605,1595,1585,1575], "format": "d", "labelExpr": "(1705 - datum.value) % 40 == 0 ? datum.label : ''", "labelOverlap": false, "labelFlush": false}},
       "y": {"field": "intensity", "type": "quantitative", "scale": {"domain": [0, 0.21], "nice": false, "zero": true}, "axis": {"title": null, "values": [0, 0.05, 0.1, 0.15, 0.2], "labelOverlap": false, "labelExpr": "datum.value == 0 ? '0' : (abs(datum.value - 0.1) < 0.000001 ? '0.1' : format(datum.value, '.2f'))"}}}},
     {"data": {"name": "wildtype"}, "mark": {"type": "line", "strokeWidth": 2.4, "strokeDash": [7, 3]},
      "encoding": {
       "x": {"field": "freq", "type": "quantitative", "scale": {"domain": [1571.5, 1705], "reverse": true, "nice": false, "zero": false}, "axis": {"title": null, "values": [1705,1695,1685,1675,1665,1655,1645,1635,1625,1615,1605,1595,1585,1575], "format": "d", "labelExpr": "(1705 - datum.value) % 40 == 0 ? datum.label : ''", "labelOverlap": false, "labelFlush": false}},
       "y": {"field": "intensity", "type": "quantitative", "scale": {"domain": [0, 0.21], "nice": false, "zero": true}, "axis": {"title": null, "values": [0, 0.05, 0.1, 0.15, 0.2], "labelOverlap": false, "labelExpr": "datum.value == 0 ? '0' : (abs(datum.value - 0.1) < 0.000001 ? '0.1' : format(datum.value, '.2f'))"}}}},
     {"data": {"values": [{"t": "F"}]}, "mark": {"type": "text", "fontSize": 21, "align": "left", "baseline": "alphabetic"}, "encoding": {"text": {"field": "t"},
       "x": {"datum": 1754.5, "type": "quantitative", "scale": {"domain": [1571.5, 1705], "reverse": true, "nice": false, "zero": false}, "axis": {"title": null, "values": [1705,1695,1685,1675,1665,1655,1645,1635,1625,1615,1605,1595,1585,1575], "format": "d", "labelExpr": "(1705 - datum.value) % 40 == 0 ? datum.label : ''", "labelOverlap": false, "labelFlush": false}},
       "y": {"datum": 0.2067, "type": "quantitative", "scale": {"domain": [0, 0.21], "nice": false, "zero": true}, "axis": {"title": null, "values": [0, 0.05, 0.1, 0.15, 0.2], "labelOverlap": false, "labelExpr": "datum.value == 0 ? '0' : (abs(datum.value - 0.1) < 0.000001 ? '0.1' : format(datum.value, '.2f'))"}}}},
     {"data": {"values": [{"t": "HHQ/AAA"}]}, "mark": {"type": "text", "fontSize": 14, "align": "center", "baseline": "alphabetic"}, "encoding": {"text": {"field": "t"},
       "x": {"datum": 1635, "type": "quantitative", "scale": {"domain": [1571.5, 1705], "reverse": true, "nice": false, "zero": false}, "axis": {"title": null, "values": [1705,1695,1685,1675,1665,1655,1645,1635,1625,1615,1605,1595,1585,1575], "format": "d", "labelExpr": "(1705 - datum.value) % 40 == 0 ? datum.label : ''", "labelOverlap": false, "labelFlush": false}},
       "y": {"datum": 0.2205, "type": "quantitative", "scale": {"domain": [0, 0.21], "nice": false, "zero": true}, "axis": {"title": null, "values": [0, 0.05, 0.1, 0.15, 0.2], "labelOverlap": false, "labelExpr": "datum.value == 0 ? '0' : (abs(datum.value - 0.1) < 0.000001 ? '0.1' : format(datum.value, '.2f'))"}}}}
   ]},
  {"width": 190, "height": 126,
   "layer": [
     {"data": {"name": "mutants"}, "transform": [{"filter": "datum.panel == 'G'"}], "mark": {"type": "line", "strokeWidth": 2.6},
      "encoding": {
       "x": {"field": "freq", "type": "quantitative", "scale": {"domain": [1571.5, 1705], "reverse": true, "nice": false, "zero": false}, "axis": {"title": "Frequency (cm⁻¹)", "values": [1705,1695,1685,1675,1665,1655,1645,1635,1625,1615,1605,1595,1585,1575], "format": "d", "labelExpr": "(1705 - datum.value) % 40 == 0 ? datum.label : ''", "labelOverlap": false, "labelFlush": false}},
       "y": {"field": "intensity", "type": "quantitative", "scale": {"domain": [0, 0.21], "nice": false, "zero": true}, "axis": {"title": "Intensity", "values": [0, 0.05, 0.1, 0.15, 0.2], "labelOverlap": false, "labelExpr": "datum.value == 0 ? '0' : (abs(datum.value - 0.1) < 0.000001 ? '0.1' : format(datum.value, '.2f'))"}}}},
     {"data": {"name": "wildtype"}, "mark": {"type": "line", "strokeWidth": 2.4, "strokeDash": [7, 3]},
      "encoding": {
       "x": {"field": "freq", "type": "quantitative", "scale": {"domain": [1571.5, 1705], "reverse": true, "nice": false, "zero": false}, "axis": {"title": "Frequency (cm⁻¹)", "values": [1705,1695,1685,1675,1665,1655,1645,1635,1625,1615,1605,1595,1585,1575], "format": "d", "labelExpr": "(1705 - datum.value) % 40 == 0 ? datum.label : ''", "labelOverlap": false, "labelFlush": false}},
       "y": {"field": "intensity", "type": "quantitative", "scale": {"domain": [0, 0.21], "nice": false, "zero": true}, "axis": {"title": "Intensity", "values": [0, 0.05, 0.1, 0.15, 0.2], "labelOverlap": false, "labelExpr": "datum.value == 0 ? '0' : (abs(datum.value - 0.1) < 0.000001 ? '0.1' : format(datum.value, '.2f'))"}}}},
     {"data": {"values": [{"t": "G"}]}, "mark": {"type": "text", "fontSize": 21, "align": "left", "baseline": "alphabetic"}, "encoding": {"text": {"field": "t"},
       "x": {"datum": 1750.7, "type": "quantitative", "scale": {"domain": [1571.5, 1705], "reverse": true, "nice": false, "zero": false}, "axis": {"title": "Frequency (cm⁻¹)", "values": [1705,1695,1685,1675,1665,1655,1645,1635,1625,1615,1605,1595,1585,1575], "format": "d", "labelExpr": "(1705 - datum.value) % 40 == 0 ? datum.label : ''", "labelOverlap": false, "labelFlush": false}},
       "y": {"datum": 0.2067, "type": "quantitative", "scale": {"domain": [0, 0.21], "nice": false, "zero": true}, "axis": {"title": "Intensity", "values": [0, 0.05, 0.1, 0.15, 0.2], "labelOverlap": false, "labelExpr": "datum.value == 0 ? '0' : (abs(datum.value - 0.1) < 0.000001 ? '0.1' : format(datum.value, '.2f'))"}}}},
     {"data": {"values": [{"t": "K16A"}]}, "mark": {"type": "text", "fontSize": 14, "align": "center", "baseline": "alphabetic"}, "encoding": {"text": {"field": "t"},
       "x": {"datum": 1641, "type": "quantitative", "scale": {"domain": [1571.5, 1705], "reverse": true, "nice": false, "zero": false}, "axis": {"title": "Frequency (cm⁻¹)", "values": [1705,1695,1685,1675,1665,1655,1645,1635,1625,1615,1605,1595,1585,1575], "format": "d", "labelExpr": "(1705 - datum.value) % 40 == 0 ? datum.label : ''", "labelOverlap": false, "labelFlush": false}},
       "y": {"datum": 0.2205, "type": "quantitative", "scale": {"domain": [0, 0.21], "nice": false, "zero": true}, "axis": {"title": "Intensity", "values": [0, 0.05, 0.1, 0.15, 0.2], "labelOverlap": false, "labelExpr": "datum.value == 0 ? '0' : (abs(datum.value - 0.1) < 0.000001 ? '0.1' : format(datum.value, '.2f'))"}}}}
   ]},
  {"width": 190, "height": 126,
   "layer": [
     {"data": {"name": "mutants"}, "transform": [{"filter": "datum.panel == 'H'"}], "mark": {"type": "line", "strokeWidth": 2.6},
      "encoding": {
       "x": {"field": "freq", "type": "quantitative", "scale": {"domain": [1571.5, 1705], "reverse": true, "nice": false, "zero": false}, "axis": {"title": "Frequency (cm⁻¹)", "values": [1705,1695,1685,1675,1665,1655,1645,1635,1625,1615,1605,1595,1585,1575], "format": "d", "labelExpr": "(1705 - datum.value) % 40 == 0 ? datum.label : ''", "labelOverlap": false, "labelFlush": false}},
       "y": {"field": "intensity", "type": "quantitative", "scale": {"domain": [0, 0.21], "nice": false, "zero": true}, "axis": {"title": null, "values": [0, 0.05, 0.1, 0.15, 0.2], "labelOverlap": false, "labelExpr": "datum.value == 0 ? '0' : (abs(datum.value - 0.1) < 0.000001 ? '0.1' : format(datum.value, '.2f'))"}}}},
     {"data": {"name": "wildtype"}, "mark": {"type": "line", "strokeWidth": 2.4, "strokeDash": [7, 3]},
      "encoding": {
       "x": {"field": "freq", "type": "quantitative", "scale": {"domain": [1571.5, 1705], "reverse": true, "nice": false, "zero": false}, "axis": {"title": "Frequency (cm⁻¹)", "values": [1705,1695,1685,1675,1665,1655,1645,1635,1625,1615,1605,1595,1585,1575], "format": "d", "labelExpr": "(1705 - datum.value) % 40 == 0 ? datum.label : ''", "labelOverlap": false, "labelFlush": false}},
       "y": {"field": "intensity", "type": "quantitative", "scale": {"domain": [0, 0.21], "nice": false, "zero": true}, "axis": {"title": null, "values": [0, 0.05, 0.1, 0.15, 0.2], "labelOverlap": false, "labelExpr": "datum.value == 0 ? '0' : (abs(datum.value - 0.1) < 0.000001 ? '0.1' : format(datum.value, '.2f'))"}}}},
     {"data": {"values": [{"t": "H"}]}, "mark": {"type": "text", "fontSize": 21, "align": "left", "baseline": "alphabetic"}, "encoding": {"text": {"field": "t"},
       "x": {"datum": 1752.5, "type": "quantitative", "scale": {"domain": [1571.5, 1705], "reverse": true, "nice": false, "zero": false}, "axis": {"title": "Frequency (cm⁻¹)", "values": [1705,1695,1685,1675,1665,1655,1645,1635,1625,1615,1605,1595,1585,1575], "format": "d", "labelExpr": "(1705 - datum.value) % 40 == 0 ? datum.label : ''", "labelOverlap": false, "labelFlush": false}},
       "y": {"datum": 0.2067, "type": "quantitative", "scale": {"domain": [0, 0.21], "nice": false, "zero": true}, "axis": {"title": null, "values": [0, 0.05, 0.1, 0.15, 0.2], "labelOverlap": false, "labelExpr": "datum.value == 0 ? '0' : (abs(datum.value - 0.1) < 0.000001 ? '0.1' : format(datum.value, '.2f'))"}}}},
     {"data": {"values": [{"t": "LVFF/AAAA"}]}, "mark": {"type": "text", "fontSize": 14, "align": "center", "baseline": "alphabetic"}, "encoding": {"text": {"field": "t"},
       "x": {"datum": 1638, "type": "quantitative", "scale": {"domain": [1571.5, 1705], "reverse": true, "nice": false, "zero": false}, "axis": {"title": "Frequency (cm⁻¹)", "values": [1705,1695,1685,1675,1665,1655,1645,1635,1625,1615,1605,1595,1585,1575], "format": "d", "labelExpr": "(1705 - datum.value) % 40 == 0 ? datum.label : ''", "labelOverlap": false, "labelFlush": false}},
       "y": {"datum": 0.2205, "type": "quantitative", "scale": {"domain": [0, 0.21], "nice": false, "zero": true}, "axis": {"title": null, "values": [0, 0.05, 0.1, 0.15, 0.2], "labelOverlap": false, "labelExpr": "datum.value == 0 ? '0' : (abs(datum.value - 0.1) < 0.000001 ? '0.1' : format(datum.value, '.2f'))"}}}}
   ]},
  {"width": 190, "height": 126,
   "layer": [
     {"data": {"name": "mutants"}, "transform": [{"filter": "datum.panel == 'I'"}], "mark": {"type": "line", "strokeWidth": 2.6},
      "encoding": {
       "x": {"field": "freq", "type": "quantitative", "scale": {"domain": [1571.5, 1705], "reverse": true, "nice": false, "zero": false}, "axis": {"title": "Frequency (cm⁻¹)", "values": [1705,1695,1685,1675,1665,1655,1645,1635,1625,1615,1605,1595,1585,1575], "format": "d", "labelExpr": "(1705 - datum.value) % 40 == 0 ? datum.label : ''", "labelOverlap": false, "labelFlush": false}},
       "y": {"field": "intensity", "type": "quantitative", "scale": {"domain": [0, 0.21], "nice": false, "zero": true}, "axis": {"title": null, "values": [0, 0.05, 0.1, 0.15, 0.2], "labelOverlap": false, "labelExpr": "datum.value == 0 ? '0' : (abs(datum.value - 0.1) < 0.000001 ? '0.1' : format(datum.value, '.2f'))"}}}},
     {"data": {"name": "wildtype"}, "mark": {"type": "line", "strokeWidth": 2.4, "strokeDash": [7, 3]},
      "encoding": {
       "x": {"field": "freq", "type": "quantitative", "scale": {"domain": [1571.5, 1705], "reverse": true, "nice": false, "zero": false}, "axis": {"title": "Frequency (cm⁻¹)", "values": [1705,1695,1685,1675,1665,1655,1645,1635,1625,1615,1605,1595,1585,1575], "format": "d", "labelExpr": "(1705 - datum.value) % 40 == 0 ? datum.label : ''", "labelOverlap": false, "labelFlush": false}},
       "y": {"field": "intensity", "type": "quantitative", "scale": {"domain": [0, 0.21], "nice": false, "zero": true}, "axis": {"title": null, "values": [0, 0.05, 0.1, 0.15, 0.2], "labelOverlap": false, "labelExpr": "datum.value == 0 ? '0' : (abs(datum.value - 0.1) < 0.000001 ? '0.1' : format(datum.value, '.2f'))"}}}},
     {"data": {"values": [{"t": "I"}]}, "mark": {"type": "text", "fontSize": 21, "align": "left", "baseline": "alphabetic"}, "encoding": {"text": {"field": "t"},
       "x": {"datum": 1754.5, "type": "quantitative", "scale": {"domain": [1571.5, 1705], "reverse": true, "nice": false, "zero": false}, "axis": {"title": "Frequency (cm⁻¹)", "values": [1705,1695,1685,1675,1665,1655,1645,1635,1625,1615,1605,1595,1585,1575], "format": "d", "labelExpr": "(1705 - datum.value) % 40 == 0 ? datum.label : ''", "labelOverlap": false, "labelFlush": false}},
       "y": {"datum": 0.2067, "type": "quantitative", "scale": {"domain": [0, 0.21], "nice": false, "zero": true}, "axis": {"title": null, "values": [0, 0.05, 0.1, 0.15, 0.2], "labelOverlap": false, "labelExpr": "datum.value == 0 ? '0' : (abs(datum.value - 0.1) < 0.000001 ? '0.1' : format(datum.value, '.2f'))"}}}},
     {"data": {"values": [{"t": "EDV / AAA"}]}, "mark": {"type": "text", "fontSize": 14, "align": "center", "baseline": "alphabetic"}, "encoding": {"text": {"field": "t"},
       "x": {"datum": 1636, "type": "quantitative", "scale": {"domain": [1571.5, 1705], "reverse": true, "nice": false, "zero": false}, "axis": {"title": "Frequency (cm⁻¹)", "values": [1705,1695,1685,1675,1665,1655,1645,1635,1625,1615,1605,1595,1585,1575], "format": "d", "labelExpr": "(1705 - datum.value) % 40 == 0 ? datum.label : ''", "labelOverlap": false, "labelFlush": false}},
       "y": {"datum": 0.2205, "type": "quantitative", "scale": {"domain": [0, 0.21], "nice": false, "zero": true}, "axis": {"title": null, "values": [0, 0.05, 0.1, 0.15, 0.2], "labelOverlap": false, "labelExpr": "datum.value == 0 ? '0' : (abs(datum.value - 0.1) < 0.000001 ? '0.1' : format(datum.value, '.2f'))"}}}}
   ]}
]
}
